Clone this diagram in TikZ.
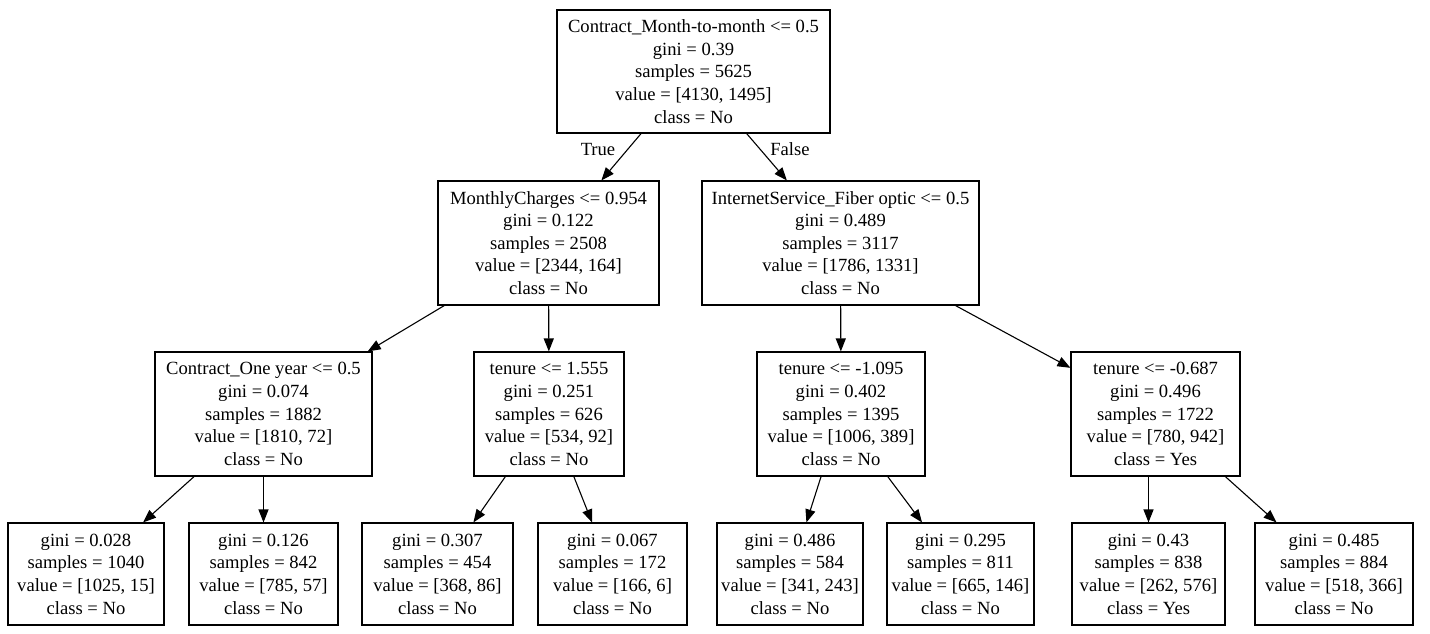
\documentclass[tikz,border=0pt]{standalone}
\usepackage{fontspec}
\setmainfont{Liberation Serif}
\usepackage{tikz}
\usetikzlibrary{arrows.meta}

\tikzset{
  split/.style={draw, line width=1.1pt, align=center, inner sep=0pt, font=\fontsize{18.6}{22.6}\selectfont},
  edgelab/.style={font=\fontsize{18.6}{22.6}\selectfont}
}

\begin{document}
\begin{tikzpicture}[x=1pt, y=-1pt, >={Triangle[length=13pt,width=10pt]}]
    \useasboundingbox (0,0) rectangle (1430,633);

    % Racine
    \node[split, minimum width=273pt, minimum height=123pt] (root) at (693.5,71.5)
      {Contract\_Month-to-month <= 0.5\\gini = 0.39\\samples = 5625\\value = [4130, 1495]\\class = No};

    % Niveau 1
    \node[split, minimum width=221pt, minimum height=124pt] (m) at (548.5,243)
      {MonthlyCharges <= 0.954\\gini = 0.122\\samples = 2508\\value = [2344, 164]\\class = No};
    \node[split, minimum width=277pt, minimum height=124pt] (f) at (840.5,243)
      {InternetService\_Fiber optic <= 0.5\\gini = 0.489\\samples = 3117\\value = [1786, 1331]\\class = No};

    % Niveau 2
    \node[split, minimum width=217pt, minimum height=124pt] (c) at (263.5,414)
      {Contract\_One year <= 0.5\\gini = 0.074\\samples = 1882\\value = [1810, 72]\\class = No};
    \node[split, minimum width=150pt, minimum height=124pt] (t1) at (549,414)
      {tenure <= 1.555\\gini = 0.251\\samples = 626\\value = [534, 92]\\class = No};
    \node[split, minimum width=168pt, minimum height=124pt] (t2) at (841,414)
      {tenure <= -1.095\\gini = 0.402\\samples = 1395\\value = [1006, 389]\\class = No};
    \node[split, minimum width=169pt, minimum height=124pt] (t3) at (1155.5,414)
      {tenure <= -0.687\\gini = 0.496\\samples = 1722\\value = [780, 942]\\class = Yes};

    % Feuilles
    \node[split, minimum width=156pt, minimum height=102pt] (l1) at (86,574)
      {gini = 0.028\\samples = 1040\\value = [1025, 15]\\class = No};
    \node[split, minimum width=149pt, minimum height=102pt] (l2) at (263.5,574)
      {gini = 0.126\\samples = 842\\value = [785, 57]\\class = No};
    \node[split, minimum width=151pt, minimum height=102pt] (l3) at (437.5,574)
      {gini = 0.307\\samples = 454\\value = [368, 86]\\class = No};
    \node[split, minimum width=149pt, minimum height=102pt] (l4) at (612.5,574)
      {gini = 0.067\\samples = 172\\value = [166, 6]\\class = No};
    \node[split, minimum width=146pt, minimum height=102pt] (l5) at (790,574)
      {gini = 0.486\\samples = 584\\value = [341, 243]\\class = No};
    \node[split, minimum width=147pt, minimum height=102pt] (l6) at (960.5,574)
      {gini = 0.295\\samples = 811\\value = [665, 146]\\class = No};
    \node[split, minimum width=153pt, minimum height=102pt] (l7) at (1148.5,574)
      {gini = 0.43\\samples = 838\\value = [262, 576]\\class = Yes};
    \node[split, minimum width=158pt, minimum height=102pt] (l8) at (1334,574)
      {gini = 0.485\\samples = 884\\value = [518, 366]\\class = No};

    % Les arcs
    \draw[->, line width=1.1pt] (root) -- (m);
    \draw[->, line width=1.1pt] (root) -- (f);
    \node[edgelab] (vrai) at (598,149) {True};
    \node[edgelab] (faux) at (790,149) {False};

    \draw[->, line width=1.1pt] (m) -- (c);
    \draw[->, line width=1.1pt] (m) -- (t1);
    \draw[->, line width=1.1pt] (f) -- (t2);
    \draw[->, line width=1.1pt] (f) -- (t3);

    \draw[->, line width=1.1pt] (c) -- (l1);
    \draw[->, line width=1.1pt] (c) -- (l2);
    \draw[->, line width=1.1pt] (t1) -- (l3);
    \draw[->, line width=1.1pt] (t1) -- (l4);
    \draw[->, line width=1.1pt] (t2) -- (l5);
    \draw[->, line width=1.1pt] (t2) -- (l6);
    \draw[->, line width=1.1pt] (t3.south -| l7.north) -- (l7.north);
    \draw[->, line width=1.1pt] (t3) -- (l8);
\end{tikzpicture}
\end{document}
